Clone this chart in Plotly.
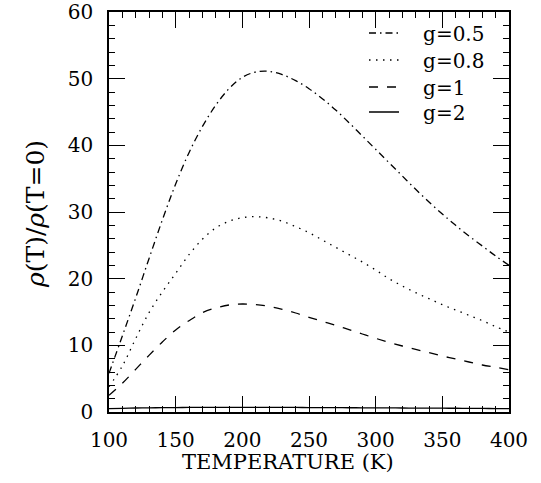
import plotly.graph_objects as go

T = [100, 110, 120, 130, 140, 150, 160, 170, 180, 190, 200, 210, 220, 230, 240,
     250, 260, 270, 280, 290, 300, 310, 320, 330, 340, 350, 360, 370, 380, 390, 400]

g05 = [5.8, 11.4, 17.1, 23.0, 28.8, 34.2, 38.9, 42.8, 46.0, 48.5, 50.2, 51.0, 51.1, 50.6, 49.7,
       48.5, 47.0, 45.3, 43.4, 41.4, 39.4, 37.4, 35.4, 33.4, 31.5, 29.7, 28.0, 26.4, 24.9, 23.4, 22.0]
g08 = [3.8, 6.9, 11.0, 14.9, 18.0, 20.8, 23.6, 25.9, 27.6, 28.6, 29.15, 29.3, 29.1, 28.6, 27.8,
       26.9, 25.8, 24.7, 23.6, 22.5, 21.3, 20.0, 18.9, 17.9, 17.0, 16.1, 15.3, 14.5, 13.7, 12.8, 12.0]
g1 = [2.5, 4.3, 6.4, 8.5, 10.5, 12.3, 13.7, 14.9, 15.6, 16.05, 16.2, 16.1, 15.85, 15.4, 14.85,
      14.2, 13.6, 13.0, 12.35, 11.7, 11.05, 10.45, 9.9, 9.4, 8.9, 8.4, 7.95, 7.5, 7.05, 6.7, 6.35]
g2 = [0.5, 0.55, 0.6, 0.63, 0.65, 0.67, 0.68, 0.69, 0.7, 0.7, 0.7, 0.7, 0.69, 0.69, 0.68,
      0.67, 0.66, 0.65, 0.64, 0.63, 0.62, 0.61, 0.6, 0.59, 0.58, 0.57, 0.56, 0.55, 0.53, 0.52, 0.5]

labels = ["g=0.5", "g=0.8", "g=1", "g=2"]
dashes = ["7px,4px,1.5px,4px", "1.5px,5.5px", "9px,9px", "solid"]
values = [g05, g08, g1, g2]
legend_rows = [0.9475, 0.88, 0.8125, 0.75]

FONT = "DejaVu Serif"

fig = go.Figure()
for i, (name, vals, dash) in enumerate(zip(labels, values, dashes)):
    lg = "legend" if i == 0 else f"legend{i+1}"
    fig.add_trace(go.Scatter(x=T, y=vals, mode="lines", name="   " + name, legend=lg,
                             line=dict(color="black", width=1.3, dash=dash, shape="spline")))

axis_common = dict(
    showgrid=False, zeroline=False, showline=True, linecolor="black", linewidth=1.5,
    mirror="allticks", ticks="inside", ticklen=16, tickwidth=1.3, tickcolor="black",
    tickfont=dict(family=FONT, size=20, color="black"), automargin=False,
    ticklabeloverflow="allow",
)

fig.update_xaxes(range=[100, 400], dtick=50, tick0=100, ticklabelstandoff=9,
                 minor=dict(dtick=10, ticklen=6, tickwidth=1.3, tickcolor="black", ticks="inside"),
                 **axis_common)
fig.update_yaxes(range=[0, 60], dtick=10, tick0=0, ticklabelstandoff=10,
                 minor=dict(dtick=2, ticklen=6, tickwidth=1.3, tickcolor="black", ticks="inside"),
                 **axis_common)

legend_style = dict(xanchor="left", yanchor="middle", bgcolor="rgba(0,0,0,0)",
                    font=dict(family=FONT, size=20, color="black"), itemwidth=30,
                    borderwidth=0)
layout_legends = {}
for i, yrow in enumerate(legend_rows):
    key = "legend" if i == 0 else f"legend{i+1}"
    layout_legends[key] = dict(x=0.6375, y=yrow, **legend_style)

fig.update_layout(
    width=541, height=483,
    margin=dict(l=109, r=32, t=12, b=71),
    paper_bgcolor="white", plot_bgcolor="white",
    showlegend=True,
    annotations=[
        dict(text="TEMPERATURE (K)", xref="paper", yref="paper", x=0.4475, y=-0.125,
             xanchor="center", yanchor="middle", showarrow=False,
             font=dict(family=FONT, size=21, color="black")),
        dict(text="<i>ρ</i>(T)/<i>ρ</i>(T=0)", xref="paper", yref="paper", x=-0.185, y=0.495,
             xanchor="center", yanchor="middle", showarrow=False, textangle=-90,
             font=dict(family=FONT, size=25, color="black")),
    ],
    **layout_legends,
)

fig.write_html("out.html", config={"displayModeBar": False},
               post_script="document.body.style.margin='0';")
